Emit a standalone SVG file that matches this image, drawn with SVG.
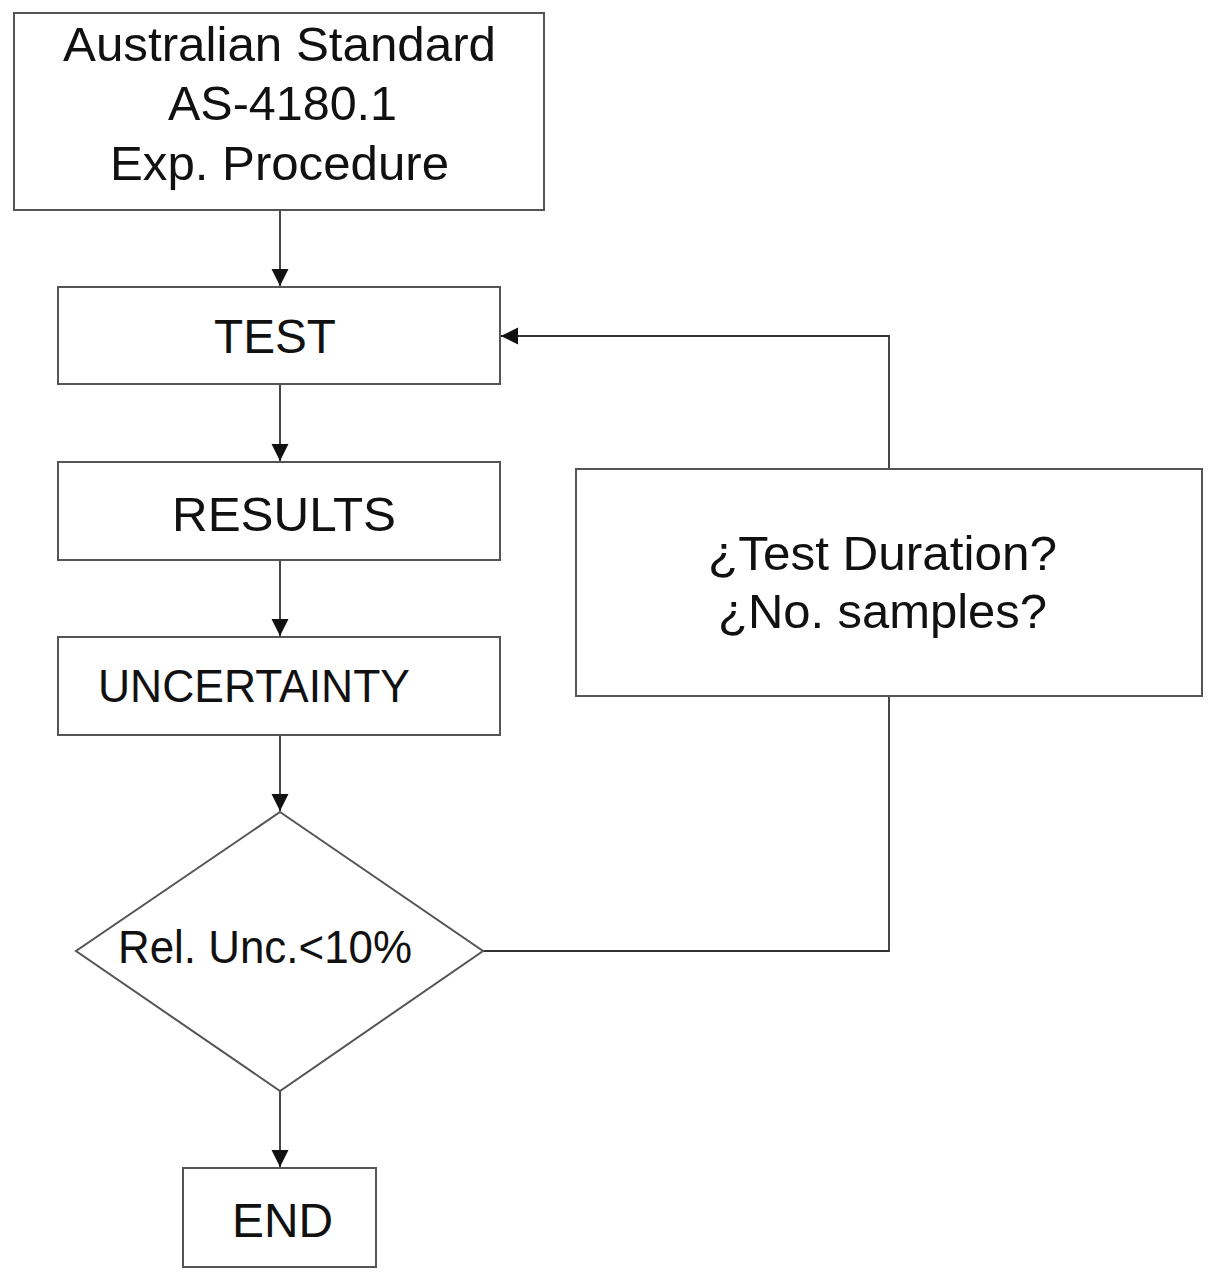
<svg xmlns="http://www.w3.org/2000/svg" width="1209" height="1278" viewBox="0 0 1209 1278">
<style>
.box{fill:#fff;stroke:#555;stroke-width:2}
.lbl{font-family:"Liberation Sans",Arial,sans-serif;fill:#111}
.con{fill:none;stroke:#333;stroke-width:1.8}
</style>
<defs>
<marker id="ah" markerUnits="userSpaceOnUse" markerWidth="20" markerHeight="20" refX="17" refY="10" orient="auto">
<path d="M0,1.5 L17,10 L0,18.5 z" fill="#111"/>
</marker>
</defs>
<rect width="1209" height="1278" fill="#fff"/>
<g id="connectors">
<path class="con" d="M280,210 V286" marker-end="url(#ah)"/>
<path class="con" d="M280,385 V461" marker-end="url(#ah)"/>
<path class="con" d="M280,560 V636" marker-end="url(#ah)"/>
<path class="con" d="M280,736 V811" marker-end="url(#ah)"/>
<path class="con" d="M280,1091 V1167" marker-end="url(#ah)"/>
<path class="con" d="M483,951 H889 V696"/>
<path class="con" d="M889,469 V336 H501" marker-end="url(#ah)"/>
</g>
<g id="start">
<rect class="box" x="14" y="13" width="530" height="197"/>
<text class="lbl" font-size="48" x="63" y="61" textLength="433" lengthAdjust="spacingAndGlyphs">Australian Standard</text>
<text class="lbl" font-size="48" x="168" y="120" textLength="229" lengthAdjust="spacingAndGlyphs">AS-4180.1</text>
<text class="lbl" font-size="48" x="110" y="180" textLength="339" lengthAdjust="spacingAndGlyphs">Exp. Procedure</text>
</g>
<g id="test">
<rect class="box" x="58" y="287" width="442" height="97"/>
<text class="lbl" font-size="48" x="214" y="353" textLength="122" lengthAdjust="spacingAndGlyphs">TEST</text>
</g>
<g id="results">
<rect class="box" x="58" y="462" width="442" height="98"/>
<text class="lbl" font-size="48" x="172" y="531" textLength="224" lengthAdjust="spacingAndGlyphs">RESULTS</text>
</g>
<g id="uncertainty">
<rect class="box" x="58" y="637" width="442" height="98"/>
<text class="lbl" font-size="46" x="98" y="702" textLength="312" lengthAdjust="spacingAndGlyphs">UNCERTAINTY</text>
</g>
<g id="question">
<rect class="box" x="576" y="469" width="626" height="227"/>
<text class="lbl" font-size="48" x="708" y="570" textLength="349" lengthAdjust="spacingAndGlyphs">¿Test Duration?</text>
<text class="lbl" font-size="48" x="718" y="628" textLength="329" lengthAdjust="spacingAndGlyphs">¿No. samples?</text>
</g>
<g id="decision">
<polygon class="box" points="280,812 483,951 280,1091 76,951"/>
<text class="lbl" font-size="46" x="118" y="963" textLength="294" lengthAdjust="spacingAndGlyphs">Rel. Unc.&lt;10%</text>
</g>
<g id="end">
<rect class="box" x="183" y="1168" width="193" height="99"/>
<text class="lbl" font-size="48" x="232" y="1237" textLength="101" lengthAdjust="spacingAndGlyphs">END</text>
</g>
</svg>
